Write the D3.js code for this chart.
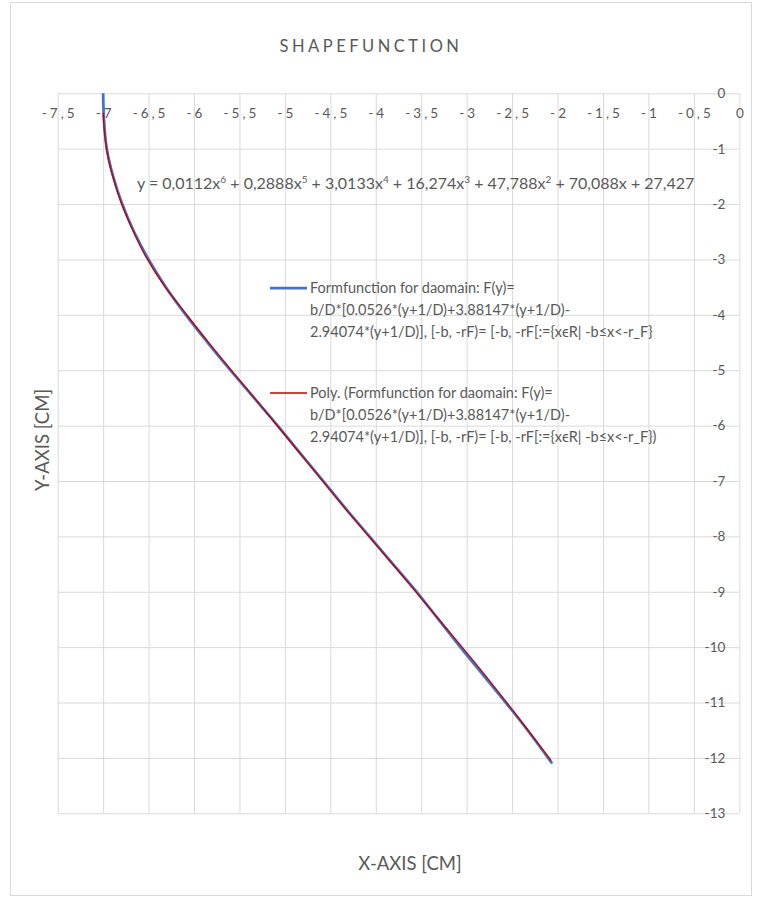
<!DOCTYPE html>
<html>
<head>
<meta charset="utf-8">
<script src="https://cdn.jsdelivr.net/npm/d3@7"></script>
<style>
  body { margin: 0; background: #fff; }
  svg text { font-family: Lato, "Noto Sans", sans-serif; fill: #595959; }
</style>
</head>
<body>
<div id="chart"></div>
<script>
// shape function data points (x in cm, y in cm)
const shapeY = [0, -0.5, -1, -1.5, -2, -2.5, -3, -3.5, -4, -4.5, -5, -5.5, -6, -6.5, -7, -7.5, -8, -8.5, -9, -9.5, -10, -10.5, -11, -11.5, -12.1];
const shapeX = [-7.0, -6.99, -6.96, -6.89, -6.79, -6.66, -6.5, -6.31, -6.09, -5.85, -5.6, -5.34, -5.08, -4.83, -4.58, -4.33, -4.07, -3.81, -3.55, -3.31, -3.07, -2.82, -2.57, -2.33, -2.06];

// polynomial trendline, also
const trendX = [-7.0, -6.98, -6.94, -6.88, -6.8, -6.68, -6.53, -6.33, -6.08, -5.83, -5.58, -5.32, -5.07, -4.82, -4.57, -4.32, -4.06, -3.8, -3.55, -3.3, -3.05, -2.8, -2.55, -2.3, -2.07];
const trendY = [-0.35, -0.8, -1.2, -1.58, -1.98, -2.45, -2.95, -3.47, -4.0, -4.52, -5.02, -5.53, -6.03, -6.53, -7.03, -7.53, -8.03, -8.53, -9.02, -9.51, -10.0, -10.5, -11.02, -11.55, -12.05];

const xTicks = [-7.5, -7, -6.5, -6, -5.5, -5, -4.5, -4, -3.5, -3, -2.5, -2, -1.5, -1, -0.5, 0];
const yTicks = [0, -1, -2, -3, -4, -5, -6, -7, -8, -9, -10, -11, -12, -13];

const title = 'SHAPEFUNCTION';
const xTitle = 'X-AXIS [CM]';
const yTitle = 'Y-AXIS [CM]';
const legendBlue = [
  'Formfunction for daomain: F(y)=',
  'b/D*[0.0526*(y+1/D)+3.88147*(y+1/D)-',
  '2.94074*(y+1/D)], [-b, -rF)= [-b, -rF[:={x\u03f5R| -b\u2264x<-r_F}'
];
const legendRed = [
  'Poly. (Formfunction for daomain: F(y)=',
  'b/D*[0.0526*(y+1/D)+3.88147*(y+1/D)-',
  '2.94074*(y+1/D)], [-b, -rF)= [-b, -rF[:={x\u03f5R| -b\u2264x<-r_F})'
];
// equation terms: [coefficient text, power]
const eqTerms = [['0,0112', '6'], ['0,2888', '5'], ['3,0133', '4'], ['16,274', '3'], ['47,788', '2'], ['70,088', ''], ['27,427', null]];

const width = 758, height = 906;
const margin = {top: 93.3, right: 18.7, bottom: 92.7, left: 57.7};
const blue = '#4472c4', red = '#c00000', grid = '#d9d9d9';

const svg = d3.select('#chart').append('svg')
  .attr('width', width).attr('height', height);

svg.append('rect')
  .attr('x', 10.5).attr('y', 2.5).attr('width', 741).attr('height', 893)
  .attr('fill', 'none').attr('stroke', grid);

const x = d3.scaleLinear().domain([-7.5, 0]).range([margin.left, width - margin.right]);
const y = d3.scaleLinear().domain([0, -13]).range([margin.top, height - margin.bottom]);

// grid
svg.append('g')
  .attr('transform', `translate(0,${margin.top})`)
  .call(d3.axisBottom(x).tickValues(xTicks).tickSize(y(-13) - y(0)).tickFormat(''))
  .call(g => g.select('.domain').remove())
  .call(g => g.selectAll('line').attr('stroke', grid));
svg.append('g')
  .attr('transform', `translate(${x(0)},0)`)
  .call(d3.axisLeft(y).tickValues(yTicks).tickSize(x(0) - x(-7.5)).tickFormat(''))
  .call(g => g.select('.domain').remove())
  .call(g => g.selectAll('line').attr('stroke', grid));

const fmt = d => String(d).replace('.', ',');

// x tick labels (under top axis line)
svg.append('g')
  .attr('transform', `translate(0,${margin.top})`)
  .call(d3.axisBottom(x).tickValues(xTicks).tickSize(0).tickPadding(15).tickFormat(fmt))
  .call(g => g.select('.domain').remove())
  .call(g => g.selectAll('text')
    .attr('fill', '#595959').style('font-size', '13.5px').style('letter-spacing', '3px')
    .attr('dx', '1.5px'));

// y tick labels (left of x = 0)
svg.append('g')
  .attr('transform', `translate(${x(0)},0)`)
  .call(d3.axisLeft(y).tickValues(yTicks).tickSize(0).tickPadding(14).tickFormat(fmt))
  .call(g => g.select('.domain').remove())
  .call(g => g.selectAll('text')
    .attr('fill', '#595959').style('font-size', '13.5px'));

// series
const shape = shapeX.map((v, i) => ({x: v, y: shapeY[i]}));
const trend = trendX.map((v, i) => ({x: v, y: trendY[i]}));
const line = d3.line().x(d => x(d.x)).y(d => y(d.y)).curve(d3.curveCatmullRom);

svg.append('path').attr('d', line(shape))
  .attr('fill', 'none').attr('stroke', blue).attr('stroke-width', 2.75);
svg.append('path').attr('d', line(trend))
  .attr('fill', 'none').attr('stroke', red).attr('stroke-width', 1.3);

// title
svg.append('text')
  .attr('x', 371).attr('y', 52).attr('text-anchor', 'middle')
  .style('font-size', '16.5px').style('letter-spacing', '3.5px')
  .text(title);

// axis titles
svg.append('text')
  .attr('x', 410).attr('y', 870).attr('text-anchor', 'middle')
  .style('font-size', '18.5px')
  .text(xTitle);
svg.append('text')
  .attr('transform', 'translate(49,440) rotate(-90)').attr('text-anchor', 'middle')
  .style('font-size', '18.5px')
  .text(yTitle);

// equation
const eq = svg.append('text')
  .attr('x', 137).attr('y', 189)
  .style('font-size', '16px');
eq.append('tspan').text('y = ');
eqTerms.forEach(([c, p], i) => {
  eq.append('tspan').text(c + (p === null ? '' : 'x'));
  if (p) eq.append('tspan').attr('dy', -6).style('font-size', '10px').text(p);
  if (p) eq.append('tspan').attr('dy', 6).text(i < eqTerms.length - 1 ? ' + ' : '');
  else if (i < eqTerms.length - 1) eq.append('tspan').text(' + ');
});

// legend
function legend(y0, color, sw, lines) {
  svg.append('line')
    .attr('x1', 270).attr('x2', 307).attr('y1', y0).attr('y2', y0)
    .attr('stroke', color).attr('stroke-width', sw);
  svg.append('g').selectAll('text').data(lines).join('text')
    .attr('x', 310).attr('y', (d, i) => y0 + 5 + i * 22)
    .style('font-size', '14.5px')
    .text(d => d);
}
legend(288, blue, 2.75, legendBlue);
legend(393, red, 1.3, legendRed);
</script>
</body>
</html>
